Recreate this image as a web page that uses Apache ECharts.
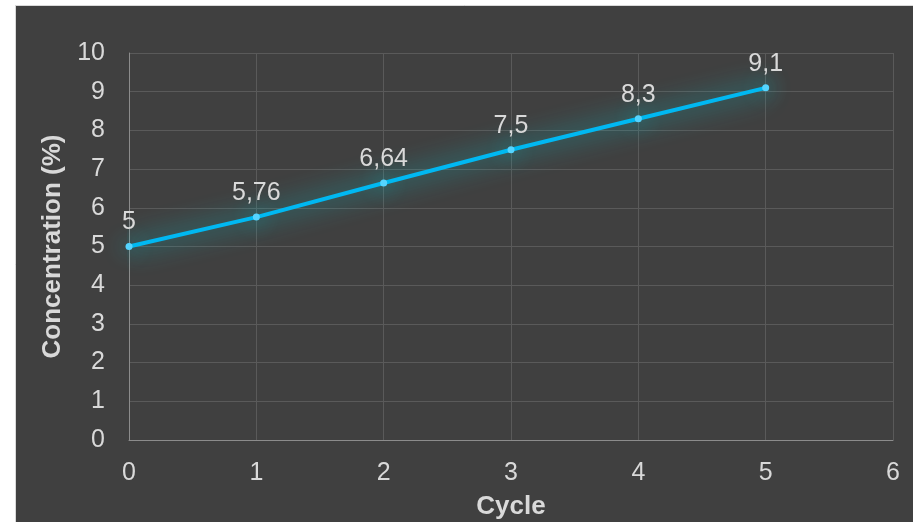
<!DOCTYPE html>
<html>
<head>
<meta charset="utf-8">
<style>
  html, body { margin: 0; padding: 0; background: #ffffff; }
  #chart { width: 913px; height: 522px; }
</style>
<script src="https://cdn.jsdelivr.net/npm/echarts@6/dist/echarts.min.js"></script>
</head>
<body>
<div id="chart"></div>
<script>
// Concentration measured after each cycle
const cycles = [0, 1, 2, 3, 4, 5];
const concentration = [5, 5.76, 6.64, 7.5, 8.3, 9.1];

const FONT = '"Liberation Sans", Arial, sans-serif';
const TEXT = '#d9d9d9';

const chart = echarts.init(document.getElementById('chart'), null, { renderer: 'canvas' });

chart.setOption({
  backgroundColor: '#ffffff',
  animation: false,
  graphic: [{
    type: 'rect',
    z: -10,
    silent: true,
    shape: { x: 15.5, y: 5.5, width: 920, height: 540 },
    style: { fill: '#404040', stroke: '#d9d9d9', lineWidth: 1 }
  }],
  grid: { left: 129, right: 20, top: 53, bottom: 82, outerBoundsMode: 'none', containLabel: false },
  xAxis: {
    type: 'value',
    min: 0, max: 6, interval: 1,
    name: 'Cycle',
    nameLocation: 'middle',
    nameGap: 54,
    nameTextStyle: { color: TEXT, fontFamily: FONT, fontSize: 26, fontWeight: 'bold' },
    axisLine: { show: true, lineStyle: { color: '#8c8c8c', width: 1 } },
    axisTick: { show: false },
    axisLabel: { color: TEXT, fontFamily: FONT, fontSize: 25, margin: 21 },
    splitLine: { show: true, lineStyle: { color: '#5a5a5a', width: 1 } }
  },
  yAxis: {
    type: 'value',
    min: 0, max: 10, interval: 1,
    name: 'Concentration (%)',
    nameLocation: 'middle',
    nameGap: 60,
    nameTextStyle: { color: TEXT, fontFamily: FONT, fontSize: 26, fontWeight: 'bold' },
    axisLine: { show: true, lineStyle: { color: '#8c8c8c', width: 1 } },
    axisTick: { show: false },
    axisLabel: { color: TEXT, fontFamily: FONT, fontSize: 25, margin: 24 },
    splitLine: { show: true, lineStyle: { color: '#5a5a5a', width: 1 } }
  },
  series: [{
    type: 'line',
    data: cycles.map((c, i) => [c, concentration[i]]),
    symbol: 'circle',
    symbolSize: 7,
    itemStyle: { color: '#55d4ff', shadowColor: 'rgba(0, 215, 225, 1)', shadowBlur: 20 },
    lineStyle: {
      color: '#00b8f2', width: 4,
      shadowColor: 'rgba(0, 210, 220, 1)', shadowBlur: 26
    },
    label: {
      show: true,
      position: 'top',
      distance: 8,
      color: TEXT,
      fontFamily: FONT,
      fontSize: 25,
      formatter: p => String(p.value[1]).replace('.', ',')
    },
    z: 5
  }]
});
</script>
</body>
</html>
